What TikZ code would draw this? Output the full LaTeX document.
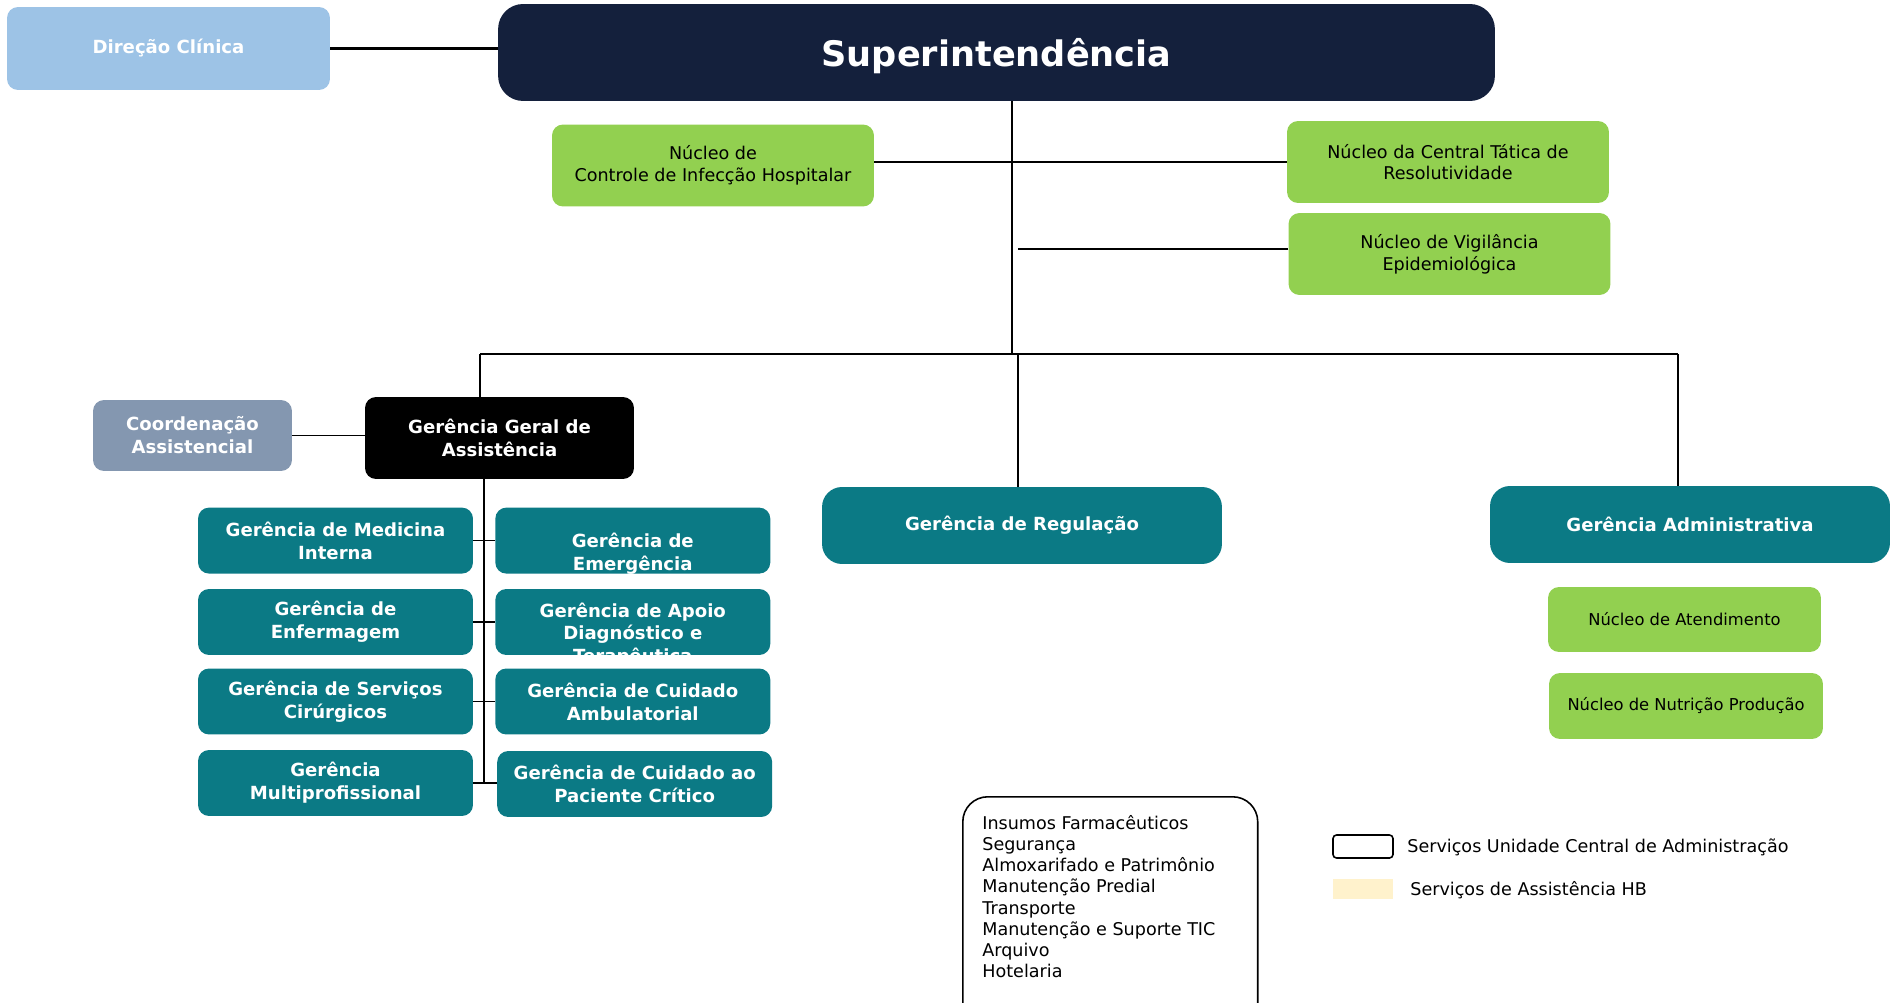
\documentclass[tikz,border=0pt]{standalone}
\usepackage{fontspec}
\setmainfont{DejaVu Sans}

\definecolor{dirblue}{HTML}{9DC3E6}
\definecolor{supnavy}{HTML}{14203C}
\definecolor{nucgreen}{HTML}{92D050}
\definecolor{gerteal}{HTML}{0B7A85}
\definecolor{coordgray}{HTML}{8497B0}
\definecolor{hbbeige}{HTML}{FFF2CC}

\begin{document}
\begin{tikzpicture}[x=0.02cm, y=-0.02cm,
    box/.style={rounded corners=0.22cm, align=center, inner sep=2pt},
    titlebox/.style={box, text=white, font=\bfseries\fontsize{10.3}{13}\selectfont},
    nucleo/.style={box, fill=nucgreen, font=\fontsize{10}{12.3}\selectfont, minimum width=6.44cm, minimum height=1.64cm},
    ger/.style={titlebox, fill=gerteal, minimum width=5.5cm, minimum height=1.32cm},
    gertext/.style={text=white, font=\bfseries\fontsize{10.3}{13}\selectfont, align=center, fill=none, draw=none, minimum width=0pt, minimum height=0pt},
    conn/.style={line width=0.9pt}]
        \useasboundingbox (0,0) rectangle (1890,1003);

        % Topo
        \node[titlebox, fill=dirblue, minimum width=6.46cm, minimum height=1.66cm] (dirclin) at (168.5,48.5) {Direção Clínica};
        \node[titlebox, fill=supnavy, rounded corners=0.5cm, font=\bfseries\fontsize{20}{24}\selectfont, text depth=0pt,
              minimum width=19.94cm, minimum height=1.94cm] (super) at (996.5,52.5) {Superintendência};

        % Nucleos ligados a superintendencia
        \node[nucleo] (ccih) at (713,165.5) {Núcleo de\\Controle de Infecção Hospitalar};
        \node[nucleo] (tatica) at (1448,162) {Núcleo da Central Tática de\\Resolutividade};
        \node[nucleo] (vigil) at (1449.5,254) {Núcleo de Vigilância\\Epidemiológica};

        % Gerencias
        \node[titlebox, fill=coordgray, minimum width=3.98cm, minimum height=1.42cm] (coord) at (192.5,435.5) {Coordenação\\Assistencial};
        \node[titlebox, fill=black, minimum width=5.38cm, minimum height=1.64cm] (gg) at (499.5,438) {Gerência Geral de\\Assistência};
        \node[titlebox, fill=gerteal, rounded corners=0.4cm, minimum width=8cm, minimum height=1.54cm] (regul) at (1022,525.5) {Gerência de Regulação};
        \node[titlebox, fill=gerteal, rounded corners=0.4cm, minimum width=8cm, minimum height=1.54cm] (admin) at (1690,524.5) {Gerência Administrativa};

        % Nucleos da administrativa
        \node[nucleo, font=\fontsize{9.3}{11.5}\selectfont, minimum width=5.46cm, minimum height=1.3cm] (atend) at (1684.5,619.5) {Núcleo de Atendimento};
        \node[nucleo, font=\fontsize{9.3}{11.5}\selectfont, minimum width=5.48cm, minimum height=1.32cm] (nutri) at (1686,706) {Núcleo de Nutrição Produção};

        % Gerencias assistenciais
        \node[ger] (medint) at (335.5,540.6) {Gerência de Medicina\\Interna};
        \node[ger] (enferm) at (335.5,622) {Gerência de\\Enfermagem};
        \node[ger] (cirurg) at (335.5,701.5) {Gerência de Serviços\\Cirúrgicos};
        \node[ger] (multi) at (335.5,783) {Gerência\\Multiprofissional};
        \node[ger, path picture={\node[gertext] at ([yshift=-0.27cm]path picture bounding box.center) {Gerência de\\Emergência};}] (emerg) at (632.8,540.6) {};
        \node[ger, path picture={\node[gertext] at ([yshift=-0.25cm]path picture bounding box.center) {Gerência de Apoio\\Diagnóstico e\\Terapêutica};}] (apoio) at (632.8,622) {};
        \node[ger] (ambul) at (632.8,701.5) {Gerência de Cuidado\\Ambulatorial};
        \node[ger] (critico) at (634.7,784) {Gerência de Cuidado ao\\Paciente Crítico};

        % Ligacoes
        \coordinate (trunk) at (1012,354);
        \coordinate (busl) at (480,354);
        \coordinate (busm) at (1018,354);
        \coordinate (busr) at (1678,354);
        \coordinate (gline) at (484,479);

        \draw[conn, line width=1.3pt] (dirclin.east) -- (dirclin.east -| super.west);
        \draw[conn] (super.south -| trunk) -- (trunk);
        \draw[conn] (tatica.west -| ccih.east) -- (tatica.west);
        \draw[conn] ([yshift=0.1cm]vigil.west) -- ([yshift=0.1cm]vigil.west -| busm);
        \draw[conn] (busl) -- (busr);
        \draw[conn] (busl) -- (busl |- gg.north);
        \draw[conn] (busm) -- (busm |- regul.north);
        \draw[conn] (busr) -- (busr |- admin.north);
        \draw[conn] (coord.east) -- (coord.east -| gg.west);
        \draw[conn] (gline) -- (gline |- multi.east);
        \draw[conn] (medint.east) -- (emerg.west);
        \draw[conn] (enferm.east) -- (apoio.west);
        \draw[conn] (cirurg.east) -- (ambul.west);
        \draw[conn] (multi.east) -- (multi.east -| critico.west);

        % Servicos da unidade central
        \begin{scope}
            \clip (0,0) rectangle (1890,1003);
            \node[draw, conn, rounded corners=0.5cm, minimum width=5.9cm, minimum height=5cm, anchor=north west] (lista) at (962,796) {};
        \end{scope}
        \node[anchor=north west, inner sep=0pt, align=left, font=\fontsize{10}{12.05}\selectfont] (itens) at (982,815)
            {Insumos Farmacêuticos\\Segurança\\Almoxarifado e Patrimônio\\Manutenção Predial\\Transporte\\Manutenção e Suporte TIC\\Arquivo\\Hotelaria};

        % Legenda
        \node[draw, conn, rounded corners=2pt, minimum width=1.2cm, minimum height=0.46cm, inner sep=0pt] (legucad) at (1363,846.5) {};
        \node[anchor=west, inner sep=0pt, font=\fontsize{10}{12}\selectfont] (legucadtxt) at (1407,847) {Serviços Unidade Central de Administração};
        \node[fill=hbbeige, minimum width=1.2cm, minimum height=0.4cm, inner sep=0pt] (leghb) at (1363,889) {};
        \node[anchor=west, inner sep=0pt, font=\fontsize{10}{12}\selectfont] (leghbtxt) at (1410,890) {Serviços de Assistência HB};
    \end{tikzpicture}
\end{document}
